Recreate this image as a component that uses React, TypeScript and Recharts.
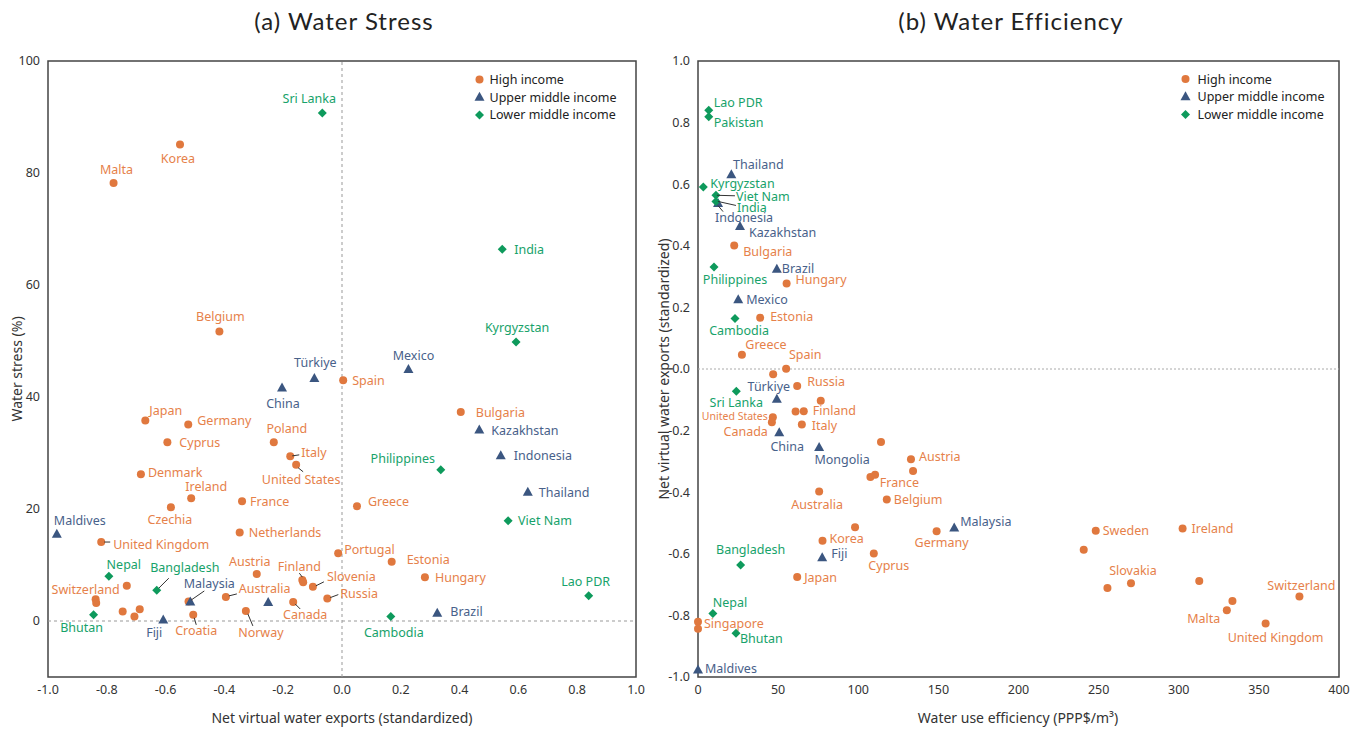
import React from "react";
import { ScatterChart, Scatter, XAxis, YAxis, ReferenceLine, ReferenceArea } from "recharts";

type Pt = { name: string; x: number; y: number };
type Place = { dx: number; dy: number; a?: "start" | "middle" | "end"; ln?: number[]; fs?: number };

// (a) water stress: x = net virtual water exports, y = water stress %
const stressHigh: Pt[] = [
  { name: "Korea", x: -0.551, y: 85.1 },
  { name: "Malta", x: -0.777, y: 78.2 },
  { name: "Belgium", x: -0.417, y: 51.7 },
  { name: "Spain", x: 0.004, y: 43.0 },
  { name: "Bulgaria", x: 0.404, y: 37.3 },
  { name: "Japan", x: -0.669, y: 35.8 },
  { name: "Germany", x: -0.523, y: 35.1 },
  { name: "Cyprus", x: -0.594, y: 31.9 },
  { name: "Poland", x: -0.232, y: 31.9 },
  { name: "Italy", x: -0.176, y: 29.4 },
  { name: "United States", x: -0.156, y: 27.9 },
  { name: "Denmark", x: -0.684, y: 26.2 },
  { name: "Ireland", x: -0.513, y: 21.9 },
  { name: "France", x: -0.34, y: 21.4 },
  { name: "Czechia", x: -0.582, y: 20.3 },
  { name: "Greece", x: 0.051, y: 20.5 },
  { name: "Netherlands", x: -0.348, y: 15.8 },
  { name: "United Kingdom", x: -0.819, y: 14.1 },
  { name: "Portugal", x: -0.013, y: 12.1 },
  { name: "Estonia", x: 0.169, y: 10.6 },
  { name: "Austria", x: -0.29, y: 8.4 },
  { name: "Hungary", x: 0.282, y: 7.8 },
  { name: "", x: -0.732, y: 6.3 },
  { name: "Finland", x: -0.135, y: 7.3 },
  { name: "", x: -0.132, y: 6.9 },
  { name: "Slovenia", x: -0.099, y: 6.1 },
  { name: "Russia", x: -0.05, y: 4.0 },
  { name: "Switzerland", x: -0.838, y: 3.9 },
  { name: "", x: -0.836, y: 3.2 },
  { name: "", x: -0.522, y: 3.5 },
  { name: "Australia", x: -0.395, y: 4.3 },
  { name: "Canada", x: -0.166, y: 3.4 },
  { name: "", x: -0.746, y: 1.7 },
  { name: "", x: -0.688, y: 2.1 },
  { name: "", x: -0.706, y: 0.8 },
  { name: "Croatia", x: -0.506, y: 1.1 },
  { name: "Norway", x: -0.327, y: 1.8 },
];

const stressUpper: Pt[] = [
  { name: "Türkiye", x: -0.094, y: 43.3 },
  { name: "Mexico", x: 0.226, y: 44.9 },
  { name: "China", x: -0.204, y: 41.6 },
  { name: "Kazakhstan", x: 0.467, y: 34.1 },
  { name: "Indonesia", x: 0.54, y: 29.5 },
  { name: "Thailand", x: 0.632, y: 23.0 },
  { name: "Maldives", x: -0.97, y: 15.5 },
  { name: "Malaysia", x: -0.516, y: 3.4 },
  { name: "", x: -0.251, y: 3.3 },
  { name: "Fiji", x: -0.608, y: 0.2 },
  { name: "Brazil", x: 0.324, y: 1.4 },
];

const stressLower: Pt[] = [
  { name: "Sri Lanka", x: -0.067, y: 90.7 },
  { name: "India", x: 0.545, y: 66.4 },
  { name: "Kyrgyzstan", x: 0.592, y: 49.8 },
  { name: "Philippines", x: 0.336, y: 27.0 },
  { name: "Viet Nam", x: 0.565, y: 17.9 },
  { name: "Nepal", x: -0.793, y: 8.0 },
  { name: "Bangladesh", x: -0.63, y: 5.5 },
  { name: "Lao PDR", x: 0.839, y: 4.5 },
  { name: "Bhutan", x: -0.845, y: 1.1 },
  { name: "Cambodia", x: 0.166, y: 0.8 },
];

// (b) water efficiency: x = PPP$/m3, y = net virtual water exports
const effHigh: Pt[] = [
  { name: "Bulgaria", x: 22.6, y: 0.401 },
  { name: "Hungary", x: 55.3, y: 0.278 },
  { name: "Estonia", x: 38.8, y: 0.166 },
  { name: "Greece", x: 27.4, y: 0.046 },
  { name: "Spain", x: 55.0, y: 0.001 },
  { name: "", x: 46.9, y: -0.017 },
  { name: "Russia", x: 61.9, y: -0.055 },
  { name: "", x: 76.6, y: -0.103 },
  { name: "", x: 60.9, y: -0.138 },
  { name: "Finland", x: 66.0, y: -0.137 },
  { name: "United States", x: 46.7, y: -0.157 },
  { name: "Canada", x: 46.1, y: -0.173 },
  { name: "Italy", x: 64.8, y: -0.18 },
  { name: "", x: 114.2, y: -0.237 },
  { name: "Austria", x: 132.9, y: -0.293 },
  { name: "", x: 134.2, y: -0.331 },
  { name: "France", x: 107.6, y: -0.351 },
  { name: "", x: 110.5, y: -0.343 },
  { name: "Belgium", x: 117.8, y: -0.424 },
  { name: "Australia", x: 75.6, y: -0.398 },
  { name: "", x: 98.0, y: -0.514 },
  { name: "Germany", x: 148.9, y: -0.527 },
  { name: "Korea", x: 77.7, y: -0.558 },
  { name: "Cyprus", x: 109.7, y: -0.599 },
  { name: "Japan", x: 61.9, y: -0.675 },
  { name: "Singapore", x: 0, y: -0.821 },
  { name: "", x: 0, y: -0.843 },
  { name: "Sweden", x: 248.2, y: -0.525 },
  { name: "", x: 240.7, y: -0.587 },
  { name: "Ireland", x: 302.4, y: -0.518 },
  { name: "Slovakia", x: 270.2, y: -0.696 },
  { name: "", x: 255.5, y: -0.711 },
  { name: "", x: 312.8, y: -0.688 },
  { name: "Switzerland", x: 375.3, y: -0.739 },
  { name: "", x: 333.5, y: -0.753 },
  { name: "Malta", x: 330.0, y: -0.783 },
  { name: "United Kingdom", x: 354.2, y: -0.826 },
];

const effUpper: Pt[] = [
  { name: "Thailand", x: 20.8, y: 0.631 },
  { name: "Indonesia", x: 12.5, y: 0.537 },
  { name: "Kazakhstan", x: 26.2, y: 0.463 },
  { name: "Brazil", x: 49.2, y: 0.324 },
  { name: "Mexico", x: 25.1, y: 0.225 },
  { name: "Türkiye", x: 49.2, y: -0.098 },
  { name: "China", x: 50.7, y: -0.207 },
  { name: "Mongolia", x: 75.6, y: -0.255 },
  { name: "Malaysia", x: 159.9, y: -0.516 },
  { name: "Fiji", x: 77.5, y: -0.613 },
  { name: "Maldives", x: 0, y: -0.977 },
];

const effLower: Pt[] = [
  { name: "Lao PDR", x: 6.7, y: 0.84 },
  { name: "Pakistan", x: 6.7, y: 0.819 },
  { name: "Kyrgyzstan", x: 3.3, y: 0.591 },
  { name: "Viet Nam", x: 11.2, y: 0.564 },
  { name: "India", x: 11.2, y: 0.544 },
  { name: "Philippines", x: 10.0, y: 0.331 },
  { name: "Cambodia", x: 23.1, y: 0.164 },
  { name: "Sri Lanka", x: 23.9, y: -0.072 },
  { name: "Bangladesh", x: 26.6, y: -0.636 },
  { name: "Nepal", x: 9.3, y: -0.794 },
  { name: "Bhutan", x: 23.7, y: -0.858 },
];

const stressXTicks = [-1, -0.8, -0.6, -0.4, -0.2, 0, 0.2, 0.4, 0.6, 0.8, 1];
const stressYTicks = [0, 20, 40, 60, 80, 100];
const effXTicks = [0, 50, 100, 150, 200, 250, 300, 350, 400];
const effYTicks = [-1, -0.8, -0.6, -0.4, -0.2, 0, 0.2, 0.4, 0.6, 0.8, 1];
const groups = ["High income", "Upper middle income", "Lower middle income"];

// label placement relative to the marker
const P = (dx: number, dy: number, a: Place["a"] = "start", ln?: number[], fs?: number): Place => ({ dx, dy, a, ln, fs });

const stressPlace: Record<string, Place> = {
  Korea: P(-2, 14, "middle"),
  Malta: P(3, -14, "middle"),
  Belgium: P(1, -15, "middle"),
  Spain: P(9, 0),
  Bulgaria: P(15, 0),
  Japan: P(4, -10),
  Germany: P(9, -4),
  Cyprus: P(12, 0),
  Poland: P(13, -14, "middle"),
  Italy: P(11, -4, "start", [2, -0.5, 9, -1.5]),
  "United States": P(5, 15, "middle", [2, 3, 7, 7]),
  Denmark: P(7, -2),
  Ireland: P(15, -12, "middle"),
  France: P(8, 0),
  Czechia: P(-1, 12, "middle"),
  Greece: P(11, -5),
  Netherlands: P(9, 0),
  "United Kingdom": P(12, 2, "start", [3, 0, 9, 0]),
  Portugal: P(6, -4),
  Estonia: P(15, -2),
  Austria: P(-7, -12, "middle"),
  Hungary: P(10, 0),
  Finland: P(-3, -14, "middle", [0, -3, -3, -7]),
  Slovenia: P(14, -10, "start", [3, -1, 11, -5]),
  Russia: P(13, -5, "start", [3, -1, 11, -4]),
  Switzerland: P(-10, -10, "middle"),
  Australia: P(13, -8, "start", [3, -1, 11, -3]),
  Canada: P(12, 13, "middle", [2, 2, 7, 7]),
  Croatia: P(3, 16, "middle", [1, 3, 3, 10]),
  Norway: P(15, 22, "middle", [2, 3, 7, 15]),
  "Türkiye": P(1, -16, "middle"),
  Mexico: P(5, -14, "middle"),
  China: P(1, 15, "middle"),
  Kazakhstan: P(12, 0),
  Indonesia: P(13, 0),
  Thailand: P(11, 0),
  Maldives: P(23, -14, "middle"),
  Malaysia: P(19, -18, "middle", [1, -2, 14, -11]),
  Fiji: P(-9, 13, "middle"),
  Brazil: P(13, -2),
  "Sri Lanka": P(-13, -15, "middle"),
  India: P(12, 0),
  Kyrgyzstan: P(1, -15, "middle"),
  Philippines: P(-38, -11, "middle"),
  "Viet Nam": P(10, 0),
  Nepal: P(15, -12, "middle"),
  Bangladesh: P(28, -23, "middle", [2, -2, 12, -12]),
  "Lao PDR": P(-3, -14, "middle"),
  Bhutan: P(-12, 13, "middle"),
  Cambodia: P(3, 16, "middle"),
};

const effPlace: Record<string, Place> = {
  "Lao PDR": P(5, -8),
  Pakistan: P(5, 6),
  Thailand: P(27, -10, "middle"),
  Kyrgyzstan: P(7, -3),
  "Viet Nam": P(20, 1, "start", [1, 0, 19, 0.5]),
  India: P(21, 6, "start", [2, 0, 20, 4]),
  Indonesia: P(26, 14, "middle", [0, 2, 5, 8]),
  Kazakhstan: P(9, 6),
  Bulgaria: P(9, 6),
  Brazil: P(5, -1),
  Philippines: P(21, 12, "middle"),
  Hungary: P(9, -4),
  Mexico: P(8, 0),
  Cambodia: P(4, 12, "middle"),
  Estonia: P(10, -1),
  Greece: P(24, -10, "middle"),
  Spain: P(19, -14, "middle"),
  Russia: P(10, -4),
  "Türkiye": P(-8, -13, "middle"),
  "Sri Lanka": P(0, 11, "middle"),
  Finland: P(9, -1),
  "United States": P(-5, -1, "end", undefined, 10.5),
  Canada: P(-4, 9, "end"),
  Italy: P(10, 1),
  China: P(8, 14, "middle"),
  Mongolia: P(23, 12, "middle"),
  Austria: P(8, -3),
  France: P(29, 5, "middle"),
  Belgium: P(7, 0),
  Australia: P(-2, 13, "middle"),
  Germany: P(5, 11, "middle"),
  Malaysia: P(6, -6),
  Korea: P(7, -2),
  Fiji: P(9, -4),
  Cyprus: P(15, 12, "middle"),
  Bangladesh: P(10, -15, "middle"),
  Japan: P(7, 1),
  Nepal: P(17, -11, "middle"),
  Singapore: P(6, 2),
  Bhutan: P(4, 5),
  Maldives: P(7, -1),
  Sweden: P(7, 0),
  Ireland: P(9, 0),
  Slovakia: P(2, -13, "middle"),
  Switzerland: P(2, -11, "middle"),
  Malta: P(-23, 8, "middle"),
  "United Kingdom": P(10, 14, "middle"),
};

const FONT = '"Noto Sans", "DejaVu Sans", sans-serif';
const ORANGE = "#E0783E";
const ORANGE_TXT = "#E6814A";
const BLUE = "#3B5680";
const BLUE_TXT = "#48618A";
const GREEN = "#0E9A5C";
const GREEN_TXT = "#17A26A";
const AXIS = "#444";

type Kind = "circle" | "tri" | "diamond";

function marker(kind: Kind, x: number, y: number, c: string) {
  if (kind === "circle") return <circle cx={x} cy={y} r={4} fill={c} />;
  if (kind === "tri") return <path d={`M${x},${y - 5.5}L${x + 5},${y + 3.5}L${x - 5},${y + 3.5}Z`} fill={c} />;
  return <path d={`M${x},${y - 4.5}L${x + 4.5},${y}L${x},${y + 4.5}L${x - 4.5},${y}Z`} fill={c} />;
}

function pointShape(kind: Kind, color: string, txt: string, place: Record<string, Place>) {
  return (props: any) => {
    const { cx, cy, payload } = props;
    const name: string = payload?.name || "";
    const pl = name ? place[name] || P(8, 0) : null;
    return (
      <g>
        {marker(kind, cx, cy, color)}
        {pl && pl.ln && (
          <line x1={cx + pl.ln[0]} y1={cy + pl.ln[1]} x2={cx + pl.ln[2]} y2={cy + pl.ln[3]} stroke="#333" strokeWidth={1} />
        )}
        {pl && (
          <text
            x={cx + pl.dx}
            y={cy + pl.dy}
            textAnchor={pl.a}
            dominantBaseline="central"
            fill={txt}
            fontSize={pl.fs || 12.5}
            fontFamily={FONT}
          >
            {name}
          </text>
        )}
      </g>
    );
  };
}

const tickStyle = { fill: "#333", fontSize: 12.5, fontFamily: FONT };
const fmt1 = (v: number) => v.toFixed(1);

function LegendBlock({ x, y, gap }: { x: number; y: number; gap: number }) {
  const kinds: Kind[] = ["circle", "tri", "diamond"];
  const cols = [ORANGE, BLUE, GREEN];
  return (
    <g>
      {groups.map((g, i) => (
        <g key={g}>
          {marker(kinds[i], x, y + i * 17.7, cols[i])}
          <text x={x + gap} y={y + i * 17.7} dominantBaseline="central" fontSize={12.5} fontFamily={FONT} fill="#222">
            {g}
          </text>
        </g>
      ))}
    </g>
  );
}

const titleStyle = { fontSize: 24, fontFamily: "Lato, sans-serif", letterSpacing: 1, fill: "#222" };

export default function App() {
  return (
    <div style={{ position: "absolute", left: 0, top: 0, width: 1366, height: 729, background: "#fff" }}>
      <div style={{ position: "absolute", left: 0, top: 0 }}>
        <ScatterChart width={680} height={729} margin={{ top: 61, right: 44, bottom: 22, left: 8 }}>
          <XAxis
            type="number"
            dataKey="x"
            domain={[-1, 1]}
            ticks={stressXTicks}
            tickFormatter={fmt1}
            tick={tickStyle}
            tickLine={false}
            axisLine={false}
            height={30}
            interval={0}
          />
          <YAxis
            type="number"
            dataKey="y"
            domain={[-10, 100]}
            ticks={stressYTicks}
            tick={tickStyle}
            tickLine={false}
            axisLine={false}
            width={40}
            interval={0}
          />
          <ReferenceLine x={0} stroke="#999" strokeDasharray="3 3" />
          <ReferenceLine y={0} stroke="#999" strokeDasharray="3 3" />
          <ReferenceArea x1={-1} x2={1} y1={-10} y2={100} fill="none" stroke={AXIS} strokeWidth={1.5} />
          <Scatter name={groups[0]} data={stressHigh} isAnimationActive={false} shape={pointShape("circle", ORANGE, ORANGE_TXT, stressPlace)} />
          <Scatter name={groups[1]} data={stressUpper} isAnimationActive={false} shape={pointShape("tri", BLUE, BLUE_TXT, stressPlace)} />
          <Scatter name={groups[2]} data={stressLower} isAnimationActive={false} shape={pointShape("diamond", GREEN, GREEN_TXT, stressPlace)} />
        </ScatterChart>
      </div>
      <div style={{ position: "absolute", left: 650, top: 0 }}>
        <ScatterChart width={716} height={729} margin={{ top: 61, right: 27, bottom: 22, left: 8 }}>
          <XAxis
            type="number"
            dataKey="x"
            domain={[0, 400]}
            ticks={effXTicks}
            tick={tickStyle}
            tickLine={false}
            axisLine={false}
            height={30}
            interval={0}
          />
          <YAxis
            type="number"
            dataKey="y"
            domain={[-1, 1]}
            ticks={effYTicks}
            tickFormatter={fmt1}
            tick={tickStyle}
            tickLine={false}
            axisLine={false}
            width={40}
            interval={0}
          />
          <ReferenceLine y={0} stroke="#aaa" strokeDasharray="2 2" />
          <ReferenceArea x1={0} x2={400} y1={-1} y2={1} fill="none" stroke={AXIS} strokeWidth={1.5} />
          <Scatter name={groups[0]} data={effHigh} isAnimationActive={false} shape={pointShape("circle", ORANGE, ORANGE_TXT, effPlace)} />
          <Scatter name={groups[1]} data={effUpper} isAnimationActive={false} shape={pointShape("tri", BLUE, BLUE_TXT, effPlace)} />
          <Scatter name={groups[2]} data={effLower} isAnimationActive={false} shape={pointShape("diamond", GREEN, GREEN_TXT, effPlace)} />
        </ScatterChart>
      </div>
      <svg width={1366} height={729} style={{ position: "absolute", left: 0, top: 0, pointerEvents: "none" }}>
        <text x={344} y={20} textAnchor="middle" dominantBaseline="central" {...titleStyle}>
          (a) Water Stress
        </text>
        <text x={1011} y={20} textAnchor="middle" dominantBaseline="central" {...titleStyle}>
          (b) Water Efficiency
        </text>
        <text x={342} y={717} textAnchor="middle" dominantBaseline="central" fontSize={14} fontFamily={FONT} fill="#333">
          Net virtual water exports (standardized)
        </text>
        <text x={1018} y={717} textAnchor="middle" dominantBaseline="central" fontSize={14} fontFamily={FONT} fill="#333">
          Water use efficiency (PPP$/m³)
        </text>
        <text x={16} y={369} transform="rotate(-90 16 369)" textAnchor="middle" dominantBaseline="central" fontSize={14} fontFamily={FONT} fill="#333">
          Water stress (%)
        </text>
        <text x={663} y={369} transform="rotate(-90 663 369)" textAnchor="middle" dominantBaseline="central" fontSize={14} fontFamily={FONT} fill="#333">
          Net virtual water exports (standardized)
        </text>
        <LegendBlock x={479.5} y={79.5} gap={10} />
        <LegendBlock x={1185.5} y={79} gap={12} />
      </svg>
    </div>
  );
}
